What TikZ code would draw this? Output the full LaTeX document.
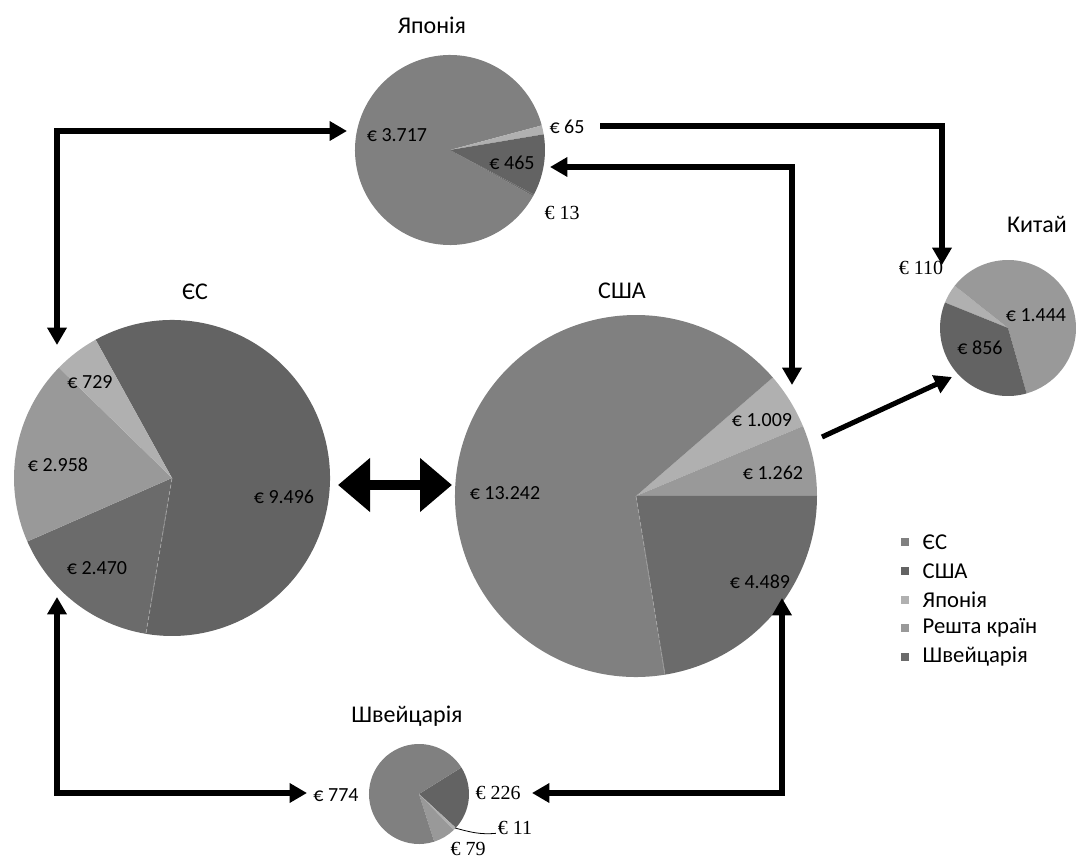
\documentclass[tikz,border=0pt]{standalone}
\usepackage{fontspec}
\setmainfont{Carlito}
\newfontfamily\numserif{Liberation Serif}
\usepackage{tikz}
\usetikzlibrary{arrows.meta}

\definecolor{eucol}{gray}{0.50}
\definecolor{usacol}{gray}{0.39}
\definecolor{jpcol}{gray}{0.69}
\definecolor{restcol}{gray}{0.60}
\definecolor{swcol}{gray}{0.42}

% one wedge: centre, radius, start angle, end angle, colour
\newcommand{\pieslice}[5]{%
  \fill[#5] (#1) -- ++(#3:#2) arc[start angle=#3, end angle=#4, radius=#2] -- cycle;}

\tikzset{
  ctitle/.style={font=\fontsize{18}{20}\selectfont},
  val/.style={font=\fontsize{15}{17}\selectfont},
  valserif/.style={font=\fontsize{15}{17}\selectfont\numserif},
  flow/.style={line width=3.8pt, -{Triangle[length=13pt,width=14pt]}},
  flowboth/.style={line width=3.8pt, {Triangle[length=13pt,width=14pt]}-{Triangle[length=13pt,width=14pt]}},
  legbox/.style={fill=#1, minimum size=5.5pt, inner sep=0pt},
  legtext/.style={anchor=west, font=\fontsize{17}{19}\selectfont},
}

\begin{document}
\begin{tikzpicture}[x=0.75pt, y=0.75pt]
      \useasboundingbox (0,0) rectangle (1076,-859);

      % pie centres
      \coordinate (jp) at (450,-150);
      \coordinate (eu) at (172,-478);
      \coordinate (us) at (636,-496);
      \coordinate (cn) at (1008,-328);
      \coordinate (sw) at (419,-794);

      % Japan
      \pieslice{jp}{95}{15}{331}{eucol}
      \pieslice{jp}{95}{9.5}{15}{jpcol}
      \pieslice{jp}{95}{-28}{9.5}{usacol}
      \pieslice{jp}{95}{-29}{-28}{swcol}

      % EU
      \pieslice{eu}{158}{118.9}{-99.5}{usacol}
      \pieslice{eu}{158}{-99.5}{-156.3}{swcol}
      \pieslice{eu}{158}{-156.3}{-224.3}{restcol}
      \pieslice{eu}{158}{-224.3}{-241.1}{jpcol}
      \draw[gray!70, densely dashed, line width=0.6pt] (eu) -- ++(-99.5:158);

      % USA
      \pieslice{us}{181}{40.9}{22.7}{jpcol}
      \pieslice{us}{181}{22.7}{0}{restcol}
      \pieslice{us}{181}{0}{-80.8}{swcol}
      \pieslice{us}{181}{-80.8}{-319.1}{eucol}
      \draw[gray!70, densely dashed, line width=0.6pt] (us) -- ++(-80.8:181);

      % China
      \pieslice{cn}{68}{158}{141.6}{jpcol}
      \pieslice{cn}{68}{141.6}{-74.1}{restcol}
      \pieslice{cn}{68}{-74.1}{-202}{usacol}

      % Switzerland
      \pieslice{sw}{50}{32}{-42.6}{usacol}
      \pieslice{sw}{50}{-42.6}{-46.2}{jpcol}
      \pieslice{sw}{50}{-46.2}{-72.3}{restcol}
      \pieslice{sw}{50}{-72.3}{-328}{eucol}

      % titles
      \node[ctitle] (t-jp) at (432,-25) {Японія};
      \node[ctitle] (t-eu) at (195,-292) {ЄС};
      \node[ctitle] (t-us) at (622,-291) {США};
      \node[ctitle] (t-cn) at (1037,-224) {Китай};
      \node[ctitle] (t-sw) at (407,-716) {Швейцарія};

      % values
      \node[val] (jp-eu) at (397,-135) {€ 3.717};
      \node[val] (jp-rest) at (567,-127) {€ 65};
      \node[val] (jp-us) at (512,-163) {€ 465};
      \node[valserif] (jp-sw) at (562,-213) {€ 13};

      \node[val] (eu-jp) at (90,-382) {€ 729};
      \node[val] (eu-rest) at (58,-465) {€ 2.958};
      \node[val] (eu-us) at (284,-497) {€ 9.496};
      \node[val] (eu-sw) at (97,-568) {€ 2.470};

      \node[val] (us-eu) at (505,-493) {€ 13.242};
      \node[val] (us-jp) at (762,-420) {€ 1.009};
      \node[val] (us-rest) at (773,-473) {€ 1.262};
      \node[val] (us-sw) at (760,-582) {€ 4.489};

      \node[valserif] (cn-jp) at (921,-268) {€ 110};
      \node[val] (cn-rest) at (1036,-315) {€ 1.444};
      \node[val] (cn-us) at (980,-348) {€ 856};

      \node[val] (sw-eu) at (336,-795) {€ 774};
      \node[valserif] (sw-us) at (498,-793) {€ 226};
      \node[valserif] (sw-jp) at (515,-828) {€ 11};
      \node[valserif] (sw-rest) at (468,-849) {€ 79};
      \coordinate (sw-tick) at (455,-828);
      \draw[black, line width=0.6pt] (sw-tick) to[out=-15, in=185] ([xshift=2pt, yshift=-4pt]sw-jp.west);

      % arrow ends
      \coordinate (eu-n) at (57,-345);
      \coordinate (jp-w) at (347,-131);
      \coordinate (jp-out) at (600,-126);
      \coordinate (cn-n) at (942,-265);
      \coordinate (jp-e) at (550,-167);
      \coordinate (us-n) at (792,-385);
      \coordinate (us-out) at (822,-437);
      \coordinate (cn-w) at (952,-377);
      \coordinate (eu-e) at (338,-485);
      \coordinate (us-w) at (452,-485);
      \coordinate (eu-s) at (57,-597);
      \coordinate (sw-w) at (307,-793);
      \coordinate (sw-e) at (532,-793);
      \coordinate (us-s) at (782,-598);

      % flows
      \draw[flowboth] (eu-n) |- (jp-w);
      \draw[flow] (jp-out) -| (cn-n);
      \draw[flowboth] (jp-e) -| (us-n);
      \draw[flow] (us-out) -- (cn-w);
      \draw[line width=7.5pt, {Triangle[length=24pt,width=39pt]}-{Triangle[length=24pt,width=39pt]}] (eu-e) -- (us-w);
      \draw[flowboth] (eu-s) |- (sw-w);
      \draw[flowboth] (sw-e) -| (us-s);

      % legend
      \node[legbox=eucol] (k-eu) at (905,-542) {};
      \node[legbox=usacol] (k-us) at (905,-571) {};
      \node[legbox=jpcol] (k-jp) at (905,-600) {};
      \node[legbox=restcol] (k-rest) at (905,-628) {};
      \node[legbox=swcol] (k-sw) at (905,-657) {};
      \node[legtext] at (918,-542) {ЄС};
      \node[legtext] at (918,-571) {США};
      \node[legtext] at (918,-600) {Японія};
      \node[legtext] at (918,-628) {Решта країн};
      \node[legtext] at (918,-657) {Швейцарія};
    \end{tikzpicture}
\end{document}
